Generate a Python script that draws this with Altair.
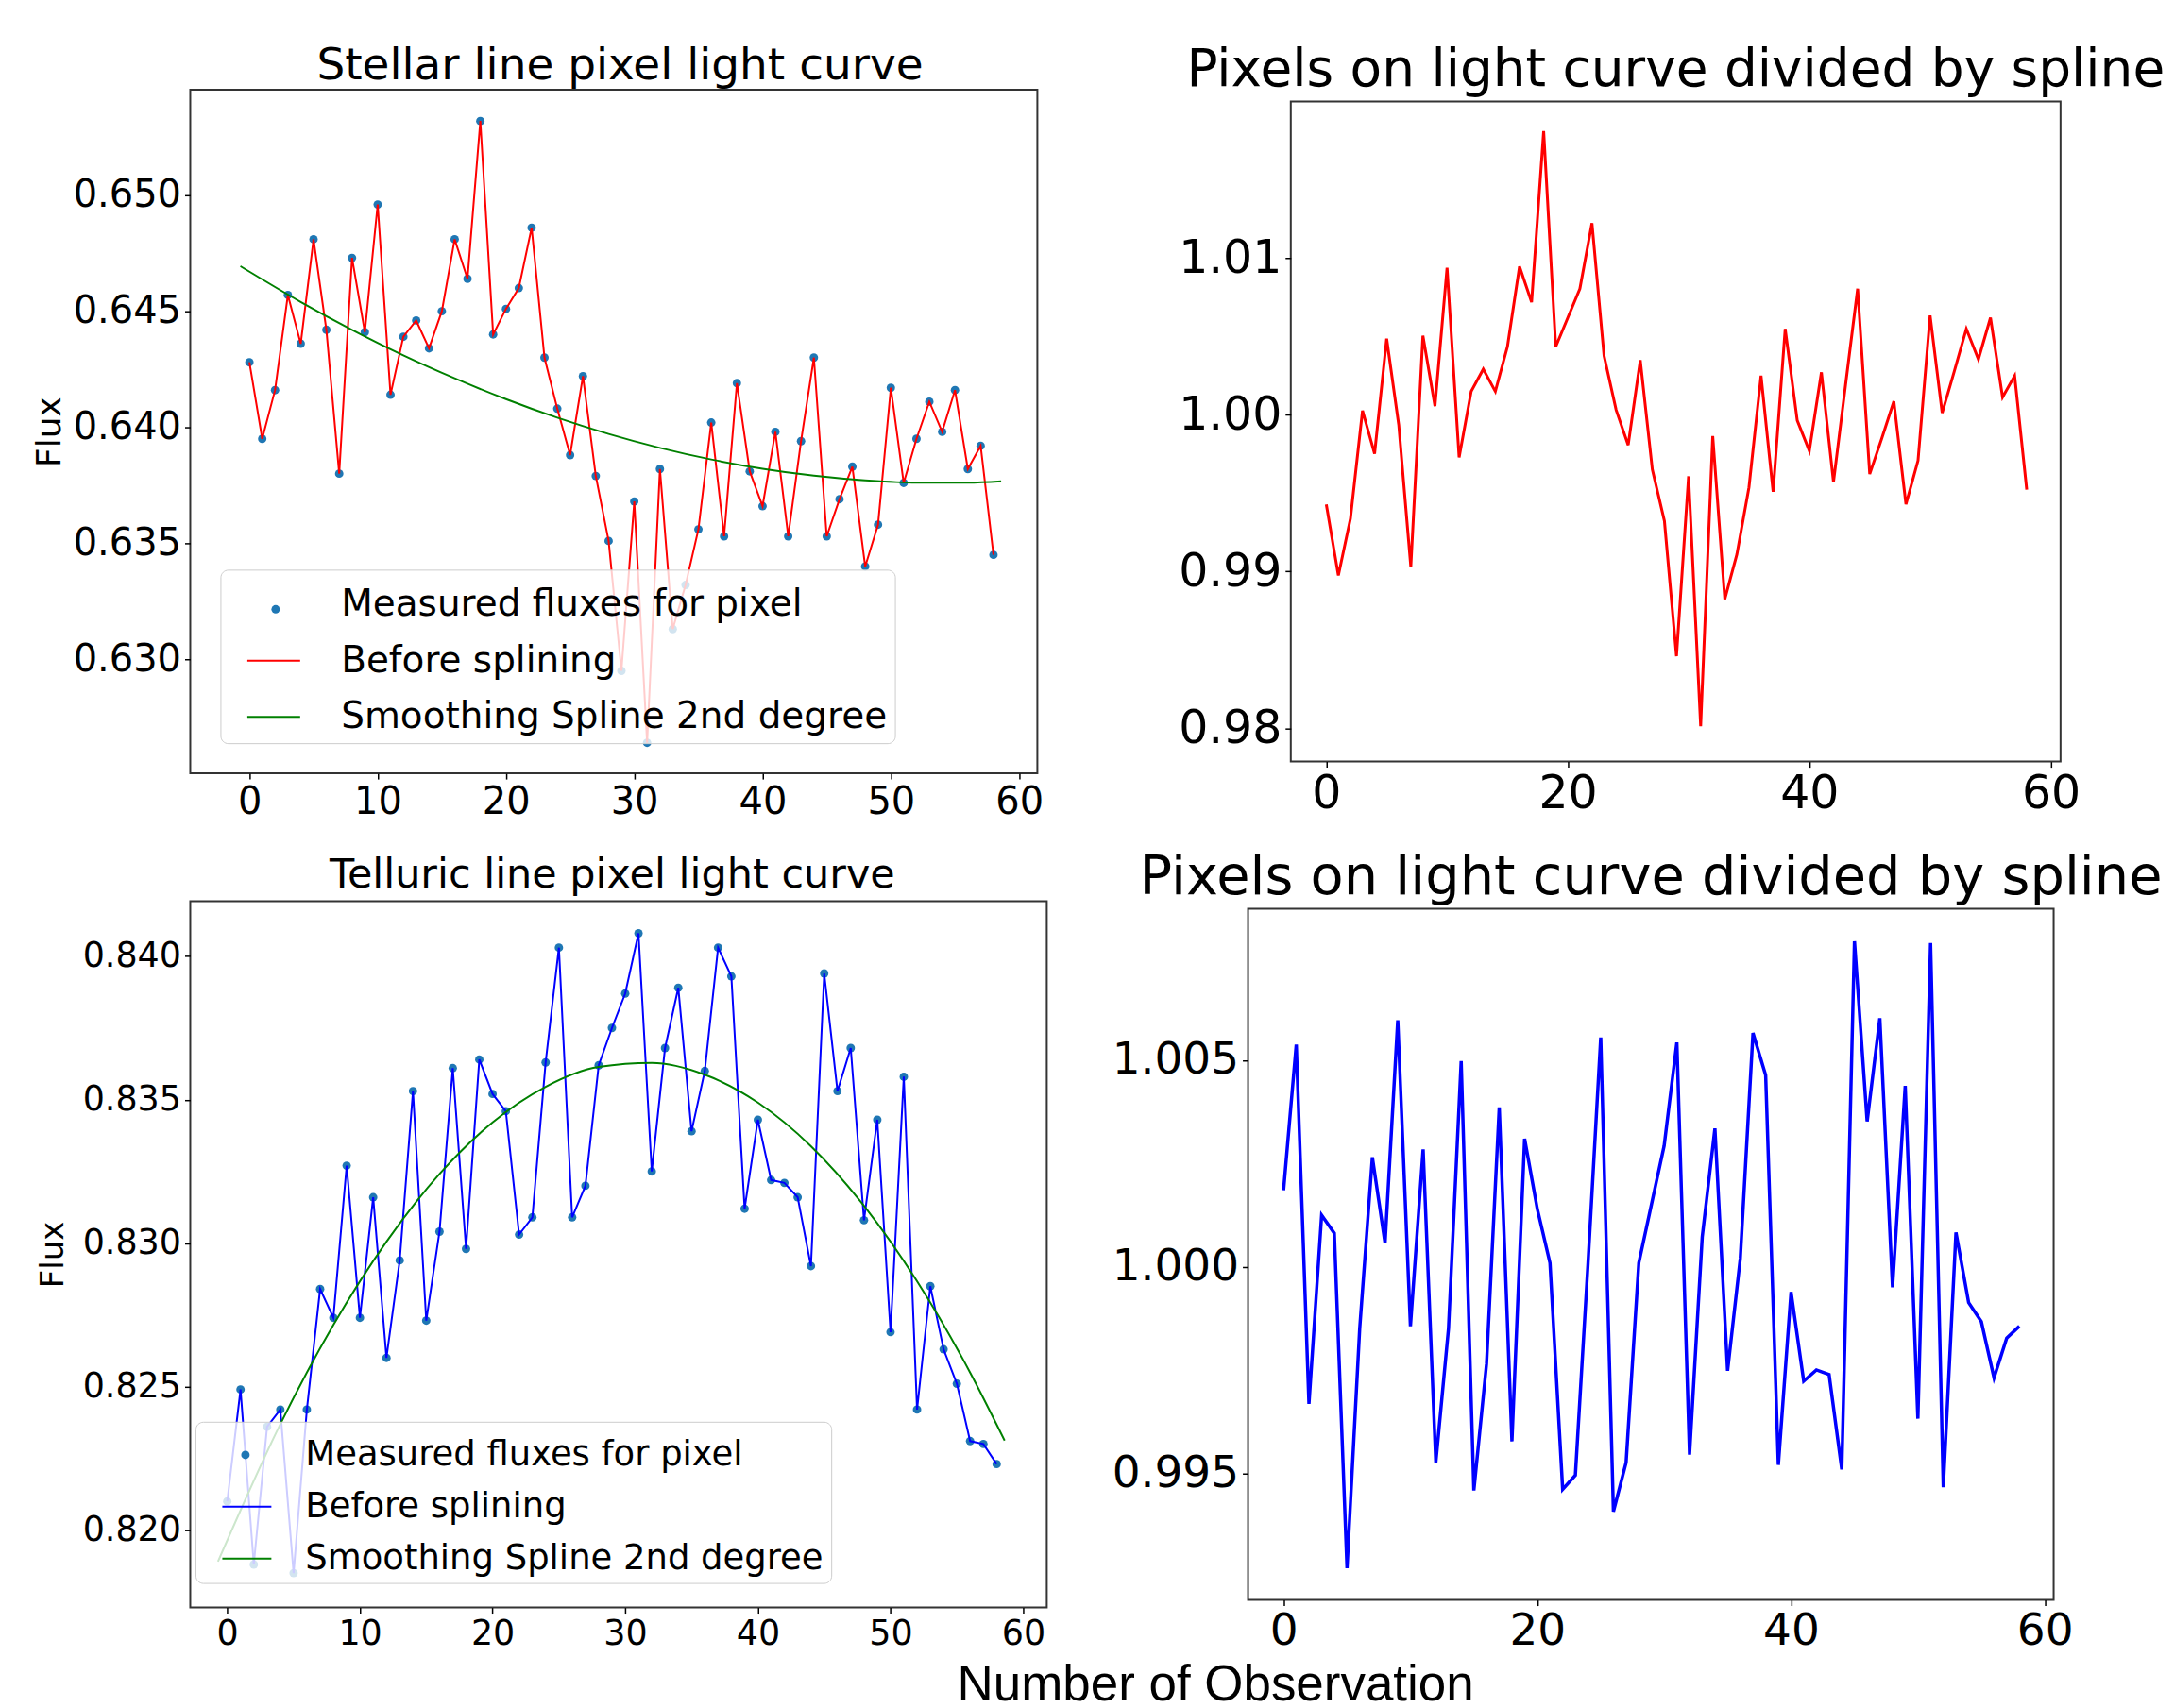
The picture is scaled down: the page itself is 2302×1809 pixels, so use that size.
import altair as alt
import pandas as pd

# ---------------- data ----------------
obs = list(range(59))

stellar_flux = [
    0.6428, 0.6395, 0.6416, 0.6457, 0.6436, 0.6481, 0.6442, 0.6380, 0.6473, 0.6441,
    0.6496, 0.6414, 0.6439, 0.6446, 0.6434, 0.6450, 0.6481, 0.6464, 0.6532, 0.6440,
    0.6451, 0.6460, 0.6486, 0.6430, 0.6408, 0.6388, 0.6422, 0.6379, 0.6351, 0.6295,
    0.6368, 0.6264, 0.6382, 0.6313, 0.6332, 0.6356, 0.6402, 0.6353, 0.6419, 0.6381,
    0.6366, 0.6398, 0.6353, 0.6394, 0.6430, 0.6353, 0.6369, 0.6383, 0.6340, 0.6358,
    0.6417, 0.6376, 0.6395, 0.6411, 0.6398, 0.6416, 0.6382, 0.6392, 0.6345,
]
spline_x = [-0.7, 4, 8, 12, 16, 20, 24, 28, 32, 36, 40, 44, 48, 52, 56, 58.6]
stellar_spline = [
    0.64694, 0.64540, 0.64420, 0.64310, 0.64211, 0.64121, 0.64041, 0.63971,
    0.63911, 0.63861, 0.63821, 0.63791, 0.63771, 0.63761, 0.63761, 0.63767,
]
stellar_ratio = [
    0.99428, 0.98975, 0.99337, 1.00026, 0.99750, 1.00484, 0.99935, 0.99029, 1.00504, 1.00054,
    1.00937, 0.99727, 1.00148, 1.00290, 1.00148, 1.00433, 1.00945, 1.00717, 1.01808, 1.00433,
    1.00618, 1.00803, 1.01221, 1.00376, 1.00030, 0.99806, 1.00347, 0.99650, 0.99322, 0.98460,
    0.99607, 0.98013, 0.99863, 0.98824, 0.99109, 0.99536, 1.00248, 0.99508, 1.00547, 0.99963,
    0.99769, 1.00270, 0.99570, 1.00191, 1.00803, 0.99621, 0.99849, 1.00085, 0.99428, 0.99707,
    1.00632, 1.00011, 1.00276, 1.00547, 1.00353, 1.00618, 1.00111, 1.00248, 0.99522,
]
telluric_flux = [
    0.8210, 0.8249, 0.8188, 0.8236, 0.8242, 0.8185, 0.8242, 0.8284, 0.8274, 0.8327,
    0.8274, 0.8316, 0.8260, 0.8294, 0.8353, 0.8273, 0.8304, 0.8361, 0.8298, 0.8364,
    0.8352, 0.8346, 0.8303, 0.8309, 0.8363, 0.8403, 0.8309, 0.8320, 0.8362, 0.8375,
    0.8387, 0.8408, 0.8325, 0.8368, 0.8389, 0.8339, 0.8360, 0.8403, 0.8393, 0.8312,
    0.8343, 0.8322, 0.8321, 0.8316, 0.8292, 0.8394, 0.8353, 0.8368, 0.8308, 0.8343,
    0.8269, 0.8358, 0.8242, 0.8285, 0.8263, 0.8251, 0.8231, 0.8230, 0.8223,
]
telluric_spline = [
    0.81890, 0.82369, 0.82715, 0.83005, 0.83241, 0.83421, 0.83545, 0.83614,
    0.83628, 0.83587, 0.83490, 0.83338, 0.83130, 0.82867, 0.82549, 0.82312,
]
telluric_ratio = [
    1.00185, 1.00538, 0.99668, 1.00125, 1.00081, 0.99270, 0.99850, 1.00265, 1.00057, 1.00597,
    0.99856, 1.00284, 0.99526, 0.99850, 1.00498, 0.99458, 0.99765, 1.00386, 0.99577, 1.00310,
    1.00140, 1.00009, 0.99461, 0.99495, 1.00009, 1.00555, 0.99407, 0.99526, 1.00009, 1.00151,
    1.00293, 1.00543, 0.99545, 1.00072, 1.00335, 0.99748, 1.00020, 1.00566, 1.00464, 0.99520,
    0.99939, 0.99723, 0.99750, 0.99739, 0.99509, 1.00788, 1.00352, 1.00602, 0.99950, 1.00438,
    0.99632, 1.00784, 0.99466, 1.00083, 0.99913, 0.99867, 0.99731, 0.99827, 0.99856,
]

x_ticks_10 = [0, 10, 20, 30, 40, 50, 60]
x_ticks_20 = [0, 20, 40, 60]
stellar_y_ticks = [0.630, 0.635, 0.640, 0.645, 0.650]
stellar_ratio_ticks = [0.98, 0.99, 1.00, 1.01]
telluric_y_ticks = [0.820, 0.825, 0.830, 0.835, 0.840]
telluric_ratio_ticks = [0.995, 1.000, 1.005]

LBL_MEAS = "Measured fluxes for pixel"
LBL_BEFORE = "Before splining"
LBL_SPLINE = "Smoothing Spline 2nd degree"

FONT = "DejaVu Sans"


def make_axis(values, fmt, size, title=None, title_size=30, title_pad=8):
    kw = dict(values=values, format=fmt, labelFont=FONT, labelFontSize=size,
              labelColor="black", tickColor="black", tickSize=6, tickWidth=1.5,
              domain=False, grid=False, labelPadding=4, labelFlush=False,
              labelOverlap=False)
    if title:
        kw.update(title=title, titleFont=FONT, titleFontSize=title_size,
                  titleFontWeight="normal", titleColor="black", titlePadding=title_pad)
    return alt.Axis(**kw)


def panel_title(text, size, off, dx=0):
    return alt.TitleParams(text, font=FONT, fontSize=size, fontWeight="normal",
                           color="black", anchor="middle", offset=off, dx=dx)


def light_curve(title, title_size, title_off, title_dx, flux, spline, line_color, xdom,
                ydom, yticks, label_size, flux_size, flux_pad, w, h, leg):
    pts = pd.DataFrame({"x": obs, "y": flux, "s": LBL_MEAS})
    ln = pd.DataFrame({"x": obs, "y": flux, "series": LBL_BEFORE})
    sp = pd.DataFrame({"x": spline_x, "y": spline, "series": LBL_SPLINE})

    xenc = alt.X("x:Q", scale=alt.Scale(domain=xdom, nice=False, zero=False),
                 axis=make_axis(x_ticks_10, "d", label_size), title=None)
    yenc = alt.Y("y:Q", scale=alt.Scale(domain=ydom, nice=False, zero=False),
                 axis=make_axis(yticks, ".3f", label_size, "Flux", flux_size, flux_pad))

    cscale = alt.Scale(domain=[LBL_MEAS, LBL_BEFORE, LBL_SPLINE],
                       range=["rgba(0,0,0,0)", line_color, "green"])
    legend_a = alt.Legend(
        orient="none", legendX=leg["x"], legendY=leg["y"], title=None,
        direction="vertical", fillColor="rgba(255,255,255,0.8)", strokeColor="#cccccc",
        cornerRadius=8, padding=leg["pad"], symbolType="stroke",
        symbolSize=leg["sym"] ** 2, symbolStrokeWidth=2, symbolOffset=leg["soff"],
        labelOffset=leg["loff"], labelFont=FONT, labelFontSize=leg["font"],
        labelColor="black", labelLimit=2000, rowPadding=leg["rowpad"], zindex=2)
    legend_b = alt.Legend(
        orient="none", legendX=leg["dx"], legendY=leg["dy"], title=None,
        symbolType="circle", symbolSize=80, symbolStrokeWidth=0, symbolOpacity=1,
        labelExpr="''", labelFontSize=1, padding=0, zindex=3)

    points = alt.Chart(pts).mark_circle(size=80, opacity=1).encode(
        x=xenc, y=yenc,
        fill=alt.Fill("s:N", scale=alt.Scale(domain=[LBL_MEAS], range=["#1f77b4"]),
                      legend=legend_b))
    line = alt.Chart(ln).mark_line(strokeWidth=2).encode(
        x="x:Q", y="y:Q",
        color=alt.Color("series:N", scale=cscale, legend=legend_a))
    spl = alt.Chart(sp).mark_line(strokeWidth=2, interpolate="monotone").encode(
        x="x:Q", y="y:Q",
        color=alt.Color("series:N", scale=cscale, legend=legend_a))
    return alt.layer(points, line, spl).properties(
        width=w, height=h, title=panel_title(title, title_size, title_off, title_dx))


def ratio_panel(title, title_size, title_off, ratio, color, stroke_w, xdom, ydom,
                yticks, yfmt, label_size, w, h):
    df = pd.DataFrame({"x": obs, "y": ratio})
    return alt.Chart(df).mark_line(color=color, strokeWidth=stroke_w).encode(
        x=alt.X("x:Q", scale=alt.Scale(domain=xdom, nice=False, zero=False),
                axis=make_axis(x_ticks_20, "d", label_size), title=None),
        y=alt.Y("y:Q", scale=alt.Scale(domain=ydom, nice=False, zero=False),
                axis=make_axis(yticks, yfmt, label_size), title=None),
    ).properties(width=w, height=h, title=panel_title(title, title_size, title_off))


tl = light_curve("Stellar line pixel light curve", 47, 1, 6.6, stellar_flux, stellar_spline,
                 "red", [-4.61, 61.42], [0.62508, 0.65455], stellar_y_ticks, 40, 36, 6,
                 898, 725,
                 dict(x=32, y=509, pad=8, sym=56, soff=19.5, loff=42.4, font=39, rowpad=10.5,
                      dx=86, dy=546.5))
tr = ratio_panel("Pixels on light curve divided by spline", 55, 4.5, stellar_ratio, "red", 3,
                 [-2.94, 60.8], [0.97788, 1.01997], stellar_ratio_ticks, ".2f", 49, 816, 700)
bl = light_curve("Telluric line pixel light curve", 43, 5.4, -6.6, telluric_flux,
                 telluric_spline, "blue", [-2.79, 61.78], [0.8173, 0.84192], telluric_y_ticks,
                 36.5, 34, 14, 908, 749,
                 dict(x=5.5, y=552, pad=8, sym=52, soff=19.5, loff=35, font=37, rowpad=10,
                      dx=54, dy=582.7))
br = ratio_panel("Pixels on light curve divided by spline", 57.5, 3, telluric_ratio, "blue", 3.5,
                 [-2.8, 60.7], [0.99193, 1.00867], telluric_ratio_ticks, ".3f", 47, 854, 733)

row1 = alt.hconcat(tl, tr, spacing=268.7, center=True, bounds="flush").resolve_scale(
    color="independent", fill="independent").resolve_legend(
    color="independent", fill="independent")
row2 = alt.hconcat(bl, br, spacing=213.4, center=True, bounds="flush").resolve_scale(
    color="independent", fill="independent").resolve_legend(
    color="independent", fill="independent")

chart = alt.vconcat(row1, row2, spacing=29.5).resolve_scale(
    color="independent", fill="independent").resolve_legend(
    color="independent", fill="independent").properties(
    title=alt.TitleParams("Number of Observation", orient="bottom", anchor="middle",
                          font="Liberation Sans", fontSize=53, fontWeight="normal",
                          color="black", offset=8, dx=124),
    padding={"left": 24.7, "top": 36, "right": 0, "bottom": 0},
    background="white",
).configure_view(stroke="#333333", strokeWidth=2)

chart.save("out.html", embed_options={"renderer": "svg", "actions": False})
